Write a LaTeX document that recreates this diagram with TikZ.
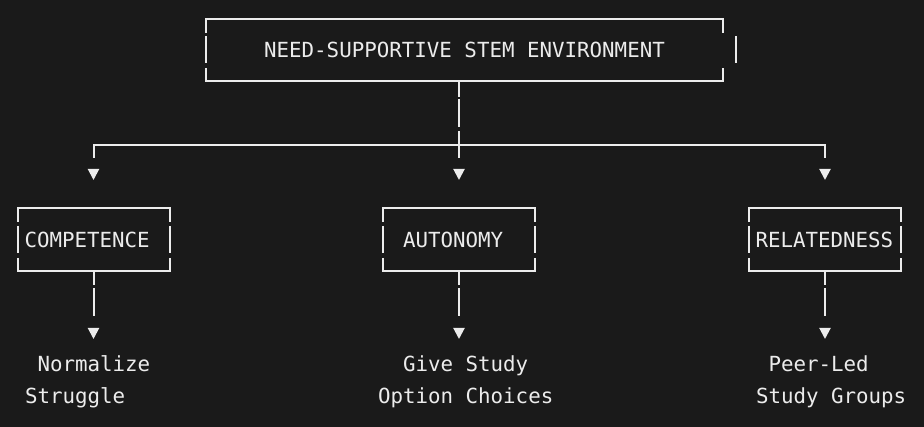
\documentclass[tikz,border=0pt]{standalone}
\usepackage{fontspec}
\newfontfamily\monof{DejaVu Sans Mono}
\usetikzlibrary{arrows.meta}
\definecolor{bg}{RGB}{26,26,26}
\definecolor{fg}{RGB}{236,236,236}
\newcommand\asciibox[2]{%
  \draw[wire] ([yshift=-14pt]#1.north west) -- (#1.north west) -- (#1.north east) -- ([yshift=-14pt]#1.north east);
  \draw[wire] ([yshift=13pt]#1.south west) -- (#1.south west) -- (#1.south east) -- ([yshift=13pt]#1.south east);
  \draw[wire] ([yshift=13.5pt]#1.west) -- ([yshift=-13.5pt]#1.west);
  \draw[wire] ([xshift=#2,yshift=13.5pt]#1.east) -- ([xshift=#2,yshift=-13.5pt]#1.east);
}
\begin{document}
\begin{tikzpicture}[x=1pt,y=-1pt,
  every node/.style={text=fg, font=\monof\fontsize{20.8}{31.5}\selectfont, outer sep=0pt},
  wire/.style={draw=fg, line width=2pt},
  tip/.style={-{Triangle[length=11pt,width=11pt]}},
  boxnode/.style={inner ysep=0pt, align=left, text height=15.2pt, text depth=0pt},
  leaf/.style={align=left, anchor=base west, inner sep=0pt}
]
\fill[bg] (0,0) rectangle (924,427);
\useasboundingbox (0,0) rectangle (924,427);

% boxes
\node[inner ysep=0pt, inner xsep=0pt, text height=15.2pt, text depth=0pt, minimum width=517pt, minimum height=62pt] (top) at (464.5,50) {NEED-SUPPORTIVE STEM ENVIRONMENT};
\node[boxnode, inner xsep=7pt, text width=138pt, minimum height=63pt] (comp) at (93.5,239.5) {COMPETENCE};
\node[boxnode, inner xsep=20pt, text width=112pt, minimum height=63pt] (auto) at (459,239.5) {AUTONOMY};
\node[boxnode, inner xsep=6.5pt, text width=139pt, minimum height=63pt] (rel) at (825,239.5) {RELATEDNESS};

\asciibox{top}{13pt}
\asciibox{comp}{0pt}
\asciibox{auto}{0pt}
\asciibox{rel}{0pt}

% leaves (base anchor = baseline of last line)
\node[leaf] (l1) at (25,403.5) {\phantom{x}Normalize\\Struggle};
\node[leaf] (l2) at (378,403.5) {\phantom{xx}Give Study\\Option Choices};
\node[leaf] (l3) at (756,403.5) {\phantom{x}Peer-Led\\Study Groups};

% connectors
\coordinate (j) at (459,145);
\coordinate (jl) at (93.5,145);
\coordinate (jr) at (825,145);
\coordinate (e1) at (93.5,339);
\coordinate (e2) at (459,339);
\coordinate (e3) at (825,339);

\draw[wire, line cap=rect] (jl) -- (jr);
\draw[wire, tip, dash pattern=on 16pt off 2pt on 28pt off 4pt on 27pt off 80pt, shorten >=28pt] (top.south -| j) -- (auto.north);
\draw[wire, tip, dash pattern=on 13pt off 80pt, shorten >=28pt] (jl) -- (comp.north);
\draw[wire, tip, dash pattern=on 13pt off 80pt, shorten >=28pt] (jr) -- (rel.north);

\draw[wire, tip, dash pattern=on 14pt off 3pt on 28pt off 80pt] (comp.south) -- (e1);
\draw[wire, tip, dash pattern=on 14pt off 3pt on 28pt off 80pt] (auto.south) -- (e2);
\draw[wire, tip, dash pattern=on 14pt off 3pt on 28pt off 80pt] (rel.south) -- (e3);
\end{tikzpicture}
\end{document}
